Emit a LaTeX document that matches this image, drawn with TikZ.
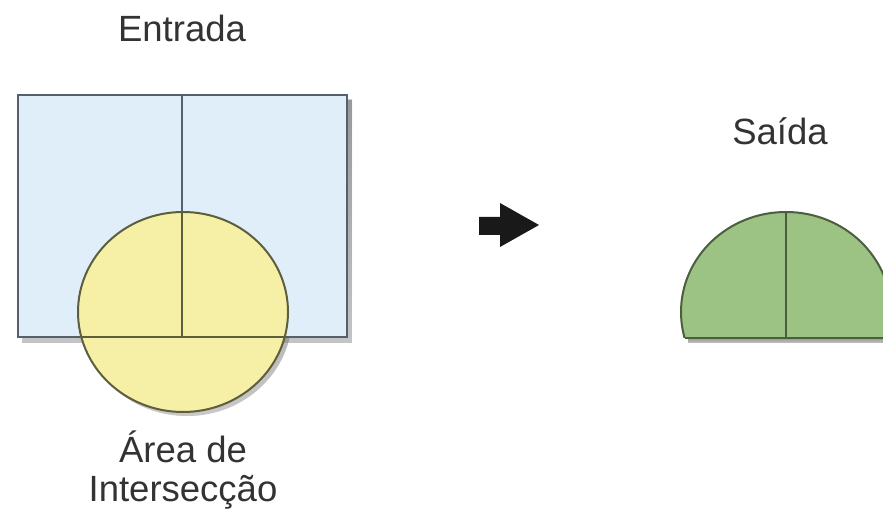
\documentclass[tikz,border=0pt]{standalone}
\usepackage{fontspec}
\setmainfont{Liberation Sans}
\definecolor{txt}{HTML}{333333}
\definecolor{bluefill}{HTML}{E0EEF9}
\definecolor{blueline}{HTML}{56606A}
\definecolor{yelfill}{HTML}{F6F0A6}
\definecolor{yelline}{HTML}{5C5E3E}
\definecolor{grnfill}{HTML}{9CC383}
\definecolor{grnline}{HTML}{4B5E3E}
\definecolor{shade}{HTML}{9A9A9A}
\tikzset{
  lbl/.style={anchor=base, text=txt, font=\fontsize{36.5}{40}\selectfont, inner sep=0pt},
  edge/.style={line width=2pt},
}
\begin{document}
\begin{tikzpicture}[x=1pt,y=-1pt]
\clip (0,0) rectangle (883,510);
\fill[white] (0,0) rectangle (883,510);
% shadows
\fill[shade,opacity=0.35] (22,100) rectangle (352,343);
\fill[shade,opacity=0.3] (187,316) ellipse [x radius=105, y radius=100];
% input rectangle
\fill[bluefill] (18,95) rectangle (347,337);
% circle
\fill[yelfill] (183,312) ellipse [x radius=105, y radius=100];
\draw[blueline,edge] (18,95) rectangle (347,337);
\draw[blueline,edge] (182,95) -- (182,212);
\draw[yelline,edge] (182,212) -- (182,337);
\draw[yelline,edge] (78,337) -- (288,337);
\draw[yelline,edge] (183,312) ellipse [x radius=105, y radius=100];
% arrow
\fill[black!90] (479,217) -- (500,217) -- (500,203) -- (539,225) -- (500,247) -- (500,235) -- (479,235) -- cycle;
% output
\fill[shade,opacity=0.35] (688,338) rectangle (890,343);
\begin{scope}
\clip (600,0) rectangle (900,338);
\fill[grnfill] (786,312) ellipse [x radius=105, y radius=100];
\draw[grnline,edge] (786,312) ellipse [x radius=105, y radius=100];
\end{scope}
\draw[grnline,edge] (684.6,338) -- (890,338);
\draw[grnline,edge] (786,212) -- (786,338);
% labels
\node[lbl] (entrada) at (182,42) {Entrada};
\node[lbl] (saida) at (780,145) {Saída};
\node[lbl] (area) at (183,462) {Área de};
\node[lbl] (inter) at (183,501) {Intersecção};
\end{tikzpicture}
\end{document}
